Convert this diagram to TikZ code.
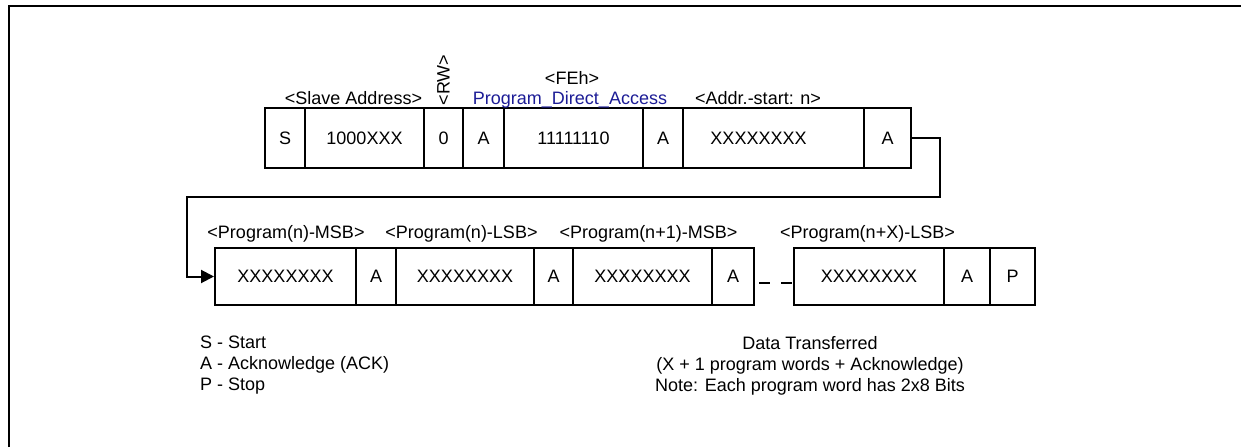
\documentclass[tikz,border=0pt]{standalone}
\usepackage{fontspec}
\setmainfont{Liberation Sans}
\usepackage{tikz}
\usetikzlibrary{arrows.meta}
\definecolor{cmdblue}{RGB}{28,28,150}

\begin{document}
\begin{tikzpicture}[x=1pt, y=-1pt,
    every node/.style={font=\fontsize{18}{21}\selectfont, inner sep=0pt},
    cell/.style={draw, line width=2pt, minimum height=60pt},
    lowcell/.style={draw, line width=2pt, minimum height=57pt},
    conn/.style={line width=2pt, -{Triangle[length=13pt, width=13pt]}}]
    \useasboundingbox (0,0) rectangle (1241,447);
    \draw[line width=2pt] (8.5,447) -- (8.5,5.5) -- (1241,5.5);

    % first frame: address, command, start address
    \node[cell, minimum width=40pt] (s) at (285,138) {S};
    \node[cell, minimum width=119pt] (addr) at (364.5,138) {1000XXX};
    \node[cell, minimum width=39pt] (rw) at (443.5,138) {0};
    \node[cell, minimum width=41pt] (a1) at (483.5,138) {A};
    \node[cell, minimum width=139pt] (cmd) at (573.5,138) {11111110};
    \node[cell, minimum width=40pt] (a2) at (663,138) {A};
    \node[cell, minimum width=181pt] (start) at (773.5,138) {\hspace*{-30pt}XXXXXXXX};
    \node[cell, minimum width=47pt] (a3) at (887.5,138) {A};

    \node[anchor=base] (addrlbl) at (353.5,104) {<Slave Address>};
    \node[rotate=90] (rwlbl) at (443.5,80) {<RW>};
    \node[anchor=base] (feh) at (572,84) {<FEh>};
    \node[anchor=base, text=cmdblue] (cmdlbl) at (570,104) {Program\_Direct\_Access};
    \node[anchor=base west] (startlbl) at (695,104) {<Addr.-start: n>};

    % second frame: program words
    \node[lowcell, minimum width=141pt] (msb) at (285.5,276.5) {XXXXXXXX};
    \node[lowcell, minimum width=40pt] (a4) at (376,276.5) {A};
    \node[lowcell, minimum width=138pt] (lsb) at (465,276.5) {XXXXXXXX};
    \node[lowcell, minimum width=39pt] (a5) at (553.5,276.5) {A};
    \node[lowcell, minimum width=139pt] (nmsb) at (642.5,276.5) {XXXXXXXX};
    \node[lowcell, minimum width=42pt] (a6) at (733,276.5) {A};
    \node[lowcell, minimum width=150pt] (xlsb) at (869,276.5) {XXXXXXXX};
    \node[lowcell, minimum width=46pt] (a7) at (967,276.5) {A};
    \node[lowcell, minimum width=45pt] (p) at (1012.5,276.5) {P};

    \node[anchor=base] (msblbl) at (286,238.5) {<Program(n)-MSB>};
    \node[anchor=base] (lsblbl) at (461.5,238.5) {<Program(n)-LSB>};
    \node[anchor=base] (nmsblbl) at (648.5,238.5) {<Program(n+1)-MSB>};
    \node[anchor=base] (xlsblbl) at (867.5,238.5) {<Program(n+X)-LSB>};

    \draw[conn] (a3.east) -- (940,138) -- (940,197) -- (187,197) |- (msb.west);
    \draw[line width=2pt, dash pattern=on 11pt off 11pt, dash phase=18pt]
        ([yshift=-6.5pt]a6.east) -- ([yshift=-6.5pt]xlsb.west);

    % notes
    \node[anchor=west, align=left] (legend) at (200,365.5) {S - Start\\A - Acknowledge (ACK)\\P - Stop};
    \node[align=center] (data) at (810,366) {Data Transferred\\(X + 1 program words + Acknowledge)\\Note: Each program word has 2x8 Bits};
\end{tikzpicture}
\end{document}
